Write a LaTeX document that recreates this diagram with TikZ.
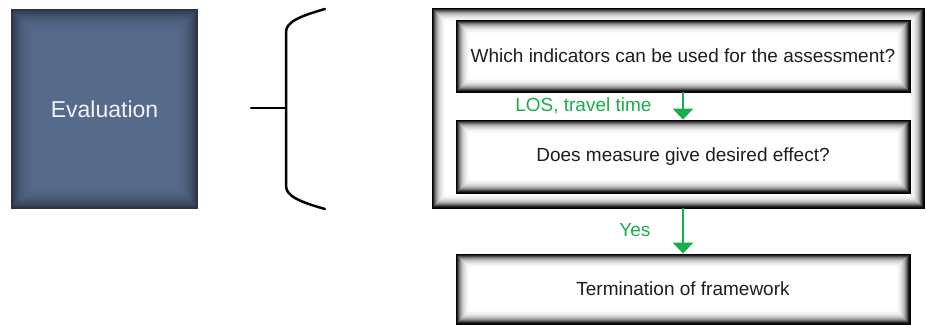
\documentclass[tikz,border=0pt]{standalone}
\usepackage{fontspec}
\setmainfont{Liberation Sans}
\usetikzlibrary{arrows.meta}
\definecolor{evalfill}{HTML}{566A8B}
\definecolor{evaledge}{HTML}{27303F}
\definecolor{txt}{HTML}{1E1E1E}
\definecolor{grn}{HTML}{1AAD4C}
\tikzset{
  glow/.style={path picture={
    \foreach \i/\o in {0/0.95,1/0.85,2/0.7,3/0.55,4/0.42,5/0.32,6/0.24,7/0.18,8/0.13,9/0.09,10/0.06,11/0.04,12/0.02}{
      \draw[#1, line width=1.1pt, draw opacity=\o]
        ([shift={(\i pt+0.5pt,-\i pt-0.5pt)}]path picture bounding box.north west) rectangle
        ([shift={(-\i pt-0.5pt,\i pt+0.5pt)}]path picture bounding box.south east);
    }}},
  vign/.style={path picture={
    \foreach \i/\o in {0/0.9,2/0.7,4/0.55,6/0.42,8/0.32,10/0.24,12/0.17,14/0.12,16/0.08,18/0.05,20/0.03}{
      \draw[#1, line width=2.1pt, draw opacity=\o]
        ([shift={(\i pt+1pt,-\i pt-1pt)}]path picture bounding box.north west) rectangle
        ([shift={(-\i pt-1pt,\i pt+1pt)}]path picture bounding box.south east);
    }}},
  qbox/.style={rectangle, fill=white, draw=black, line width=0.8pt, glow=black,
    minimum width=454pt, inner sep=0pt, font=\fontsize{19}{22}\selectfont, text=txt},
  evalbox/.style={rectangle, fill=evalfill, vign=evaledge, minimum width=187pt, minimum height=200pt,
    font=\fontsize{23}{26}\selectfont, text=white!92!evalfill},
  garrow/.style={draw=grn, line width=2.8pt, -{Triangle[width=20pt,length=11pt]}},
  glabel/.style={text=grn, font=\fontsize{19}{22}\selectfont},
  brace/.style={draw=black, line width=2.5pt, line cap=round}
}
\begin{document}
\begin{tikzpicture}[x=1pt,y=-1pt]
\useasboundingbox[fill=white] (0,0) rectangle (926,324);
\node[evalbox] (eval) at (104.5,109) {Evaluation};
% brace
\coordinate (bl) at (251,108);
\coordinate (bm) at (286,108);
\coordinate (bt) at (325,9);
\coordinate (bb) at (325,209);
\draw[brace] (bl) -- (bm);
\draw[brace] (bt) .. controls (300,16) and (286,22) .. (286,32) -- (286,186) .. controls (286,196) and (300,202) .. (bb);
% outer box
\node[rectangle, fill=white, draw=black, line width=0.8pt, glow=black, minimum width=492pt, minimum height=200pt] (outer) at (678,108) {};
\node[qbox, minimum height=72pt] (q1) at (683,56) {Which indicators can be used for the assessment?};
\node[qbox, minimum height=73pt] (q2) at (683,156.5) {Does measure give desired effect?};
\node[qbox, minimum height=70pt] (q3) at (683,289) {Termination of framework};
\draw[garrow] (q1.south) -- (q2.north);
\draw[garrow] (outer.south -| q2.south) -- (q3.north);
\node[glabel, anchor=east] (l1) at (655,106) {LOS, travel time};
\node[glabel, anchor=east] (l2) at (654,230) {Yes};
\end{tikzpicture}
\end{document}
